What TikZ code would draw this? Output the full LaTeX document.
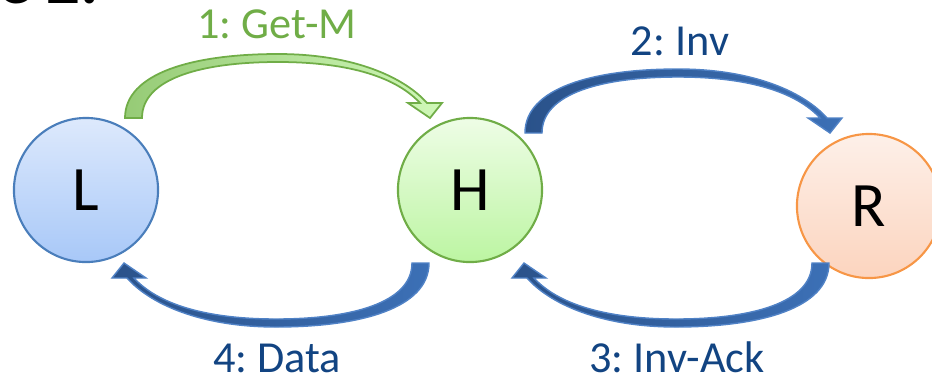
\documentclass[tikz,border=0pt]{standalone}
\usepackage{fontspec}
\setmainfont{Carlito}
\frenchspacing
\usetikzlibrary{calc}

\definecolor{lTop}{RGB}{221,233,252}
\definecolor{lBot}{RGB}{168,200,248}
\definecolor{lLine}{RGB}{74,126,187}
\definecolor{hTop}{RGB}{238,253,230}
\definecolor{hBot}{RGB}{188,245,162}
\definecolor{hLine}{RGB}{112,173,71}
\definecolor{rTop}{RGB}{253,240,233}
\definecolor{rBot}{RGB}{252,212,190}
\definecolor{rLine}{RGB}{247,150,70}
\definecolor{arrBlue}{RGB}{60,112,182}
\definecolor{arrBlueDk}{RGB}{42,82,138}
\definecolor{arrBlueLn}{RGB}{80,130,198}
\definecolor{arrGreen}{RGB}{150,203,118}
\definecolor{arrGreenLt}{RGB}{208,248,184}
\definecolor{txtBlue}{RGB}{18,68,130}
\definecolor{txtGreen}{RGB}{112,173,71}

\tikzset{
	agent/.style={circle, minimum size=1.44cm, inner sep=0pt, line width=0.6pt,
		font=\fontsize{18}{20}\selectfont},
	msg/.style={anchor=base, font=\fontsize{12.6}{14}\selectfont, text=txtBlue},
	bluearrow/.style={left color=arrBlueDk, right color=arrBlue, draw=arrBlueLn, line width=0.4pt},
	greenarrow/.style={left color=arrGreen, right color=arrGreenLt, draw=txtGreen, line width=0.5pt},
	ribbon/.pic={
		\path[pic actions] (-8,0) .. controls (-8,-45) and (60,-64) .. (145,-64)
			.. controls (222,-64) and (272,-40) .. (294,-15)
			-- (309,-15) -- (297,0) -- (275,-15) -- (287,-15)
			.. controls (264,-40) and (218,-56) .. (145,-56)
			.. controls (70,-56) and (9,-40) .. (9,0) -- cycle;
	}
}

\begin{document}
\begin{tikzpicture}[x=0.01cm, y=-0.01cm]
	\useasboundingbox (0,0) rectangle (932,381);
	% slide title, cut off at the top
	\begin{scope}
		\clip (0,0) rectangle (932,381);
		\node[anchor=base east, inner sep=0pt, font=\fontsize{19}{22}\selectfont\bfseries] (title) at (100,3) {Case 2:};
	\end{scope}

	\node[agent, top color=lTop, bottom color=lBot, draw=lLine] (L) at (86,190) {L};
	\node[agent, top color=hTop, bottom color=hBot, draw=hLine] (H) at (470,190) {H};
	\node[agent, top color=rTop, bottom color=rBot, draw=rLine] (R) at (869,206) {R};

	\coordinate (t1) at ($(L.center)+(47,-72)$);
	\coordinate (t2) at ($(H.center)+(63,-57)$);
	\coordinate (t3) at ($(R.center)+(-48,57)$);
	\coordinate (t4) at ($(H.center)+(-49,73)$);

	\pic[greenarrow] at (t1) {ribbon};
	\pic[bluearrow] at (t2) {ribbon};
	\pic[bluearrow, rotate=180] at (t3) {ribbon};
	\pic[bluearrow, rotate=180] at (t4) {ribbon};

	\node[msg, text=txtGreen] (getm) at (277,38) {1: Get-M};
	\node[msg] (inv) at (680,55) {2: Inv};
	\node[msg] (ack) at (677,372) {3: Inv-Ack};
	\node[msg] (data) at (277,372) {4: Data};
\end{tikzpicture}
\end{document}
